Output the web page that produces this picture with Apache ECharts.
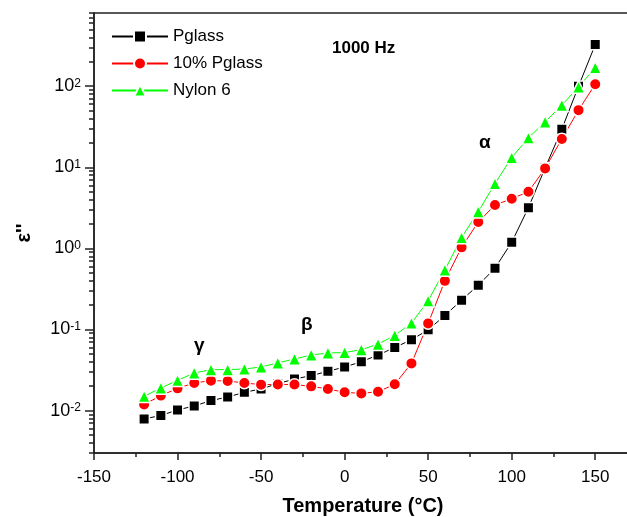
<!DOCTYPE html>
<html>
<head>
<meta charset="utf-8">
<script src="https://cdn.jsdelivr.net/npm/echarts@6/dist/echarts.min.js"></script>
<style>
html,body{margin:0;padding:0;background:#fff;}
#c{width:627px;height:517px;}
</style>
</head>
<body>
<div id="c"></div>
<script>
// Temperature (°C)
var temps = [-120,-110,-100,-90,-80,-70,-60,-50,-40,-30,-20,-10,0,10,20,30,40,50,60,70,80,90,100,110,120,130,140,150];
// epsilon'' values at 1000 Hz
var pglass = [0.0079,0.0087,0.0102,0.0114,0.0133,0.0147,0.0168,0.0185,0.0215,0.0245,0.027,0.0305,0.0345,0.040,0.0485,0.060,0.0748,0.099,0.149,0.230,0.352,0.57,1.19,3.18,9.8,29.5,100,326];
var pglass10 = [0.0119,0.0153,0.0188,0.0219,0.0234,0.0232,0.0219,0.0209,0.021,0.021,0.0199,0.0185,0.0168,0.0163,0.0171,0.0211,0.0382,0.119,0.398,1.03,2.12,3.43,4.1,5.0,9.7,22.4,50.7,106];
var nylon6 = [0.015,0.019,0.0236,0.0291,0.032,0.032,0.0326,0.0345,0.0387,0.0433,0.0485,0.0513,0.052,0.0564,0.066,0.0845,0.12,0.226,0.543,1.36,2.84,6.3,13.2,23.1,36.3,58.4,98,170];
var seriesNames = ['Pglass','10% Pglass','Nylon 6'];
// axis ticks
var xMajorTicks = [-150,-100,-50,0,50,100,150];
var xMinorTicks = [-125,-75,-25,25,75,125];
var yMajorTicks = [0.01,0.1,1,10,100];
var yMinorTicks = [0.003,0.004,0.005,0.006,0.007,0.008,0.009,
  0.02,0.03,0.04,0.05,0.06,0.07,0.08,0.09,
  0.2,0.3,0.4,0.5,0.6,0.7,0.8,0.9,
  2,3,4,5,6,7,8,9,
  20,30,40,50,60,70,80,90,
  200,300,400,500,600,700,800];

function pairs(vals){ return temps.map(function(t,i){ return [t, vals[i]]; }); }

var FONT = 'Liberation Sans, Arial, sans-serif';
var AX = '#222';

var chart = echarts.init(document.getElementById('c'), null, {renderer:'canvas'});

function mkSeries(name, vals, color, symbol, size){
  return {
    name: name, type: 'line', data: pairs(vals),
    xAxisIndex: 0, yAxisIndex: 0,
    symbol: symbol, symbolSize: size,
    lineStyle: {color: color, width: 1},
    itemStyle: {color: color, borderColor: '#fff', borderWidth: 1.5},
    emphasis: {disabled: true},
    animation: false
  };
}

var option = {
  animation: false,
  backgroundColor: '#fff',
  textStyle: {fontFamily: FONT},
  grid: {left: 94, top: 13, right: -5, bottom: 64, show: true, borderColor: AX, borderWidth: 1.5, backgroundColor: 'transparent',
         containLabel: false, outerBoundsMode: 'none'},
  legend: {
    orient: 'vertical', left: 106, top: 23,
    itemWidth: 56, itemHeight: 15, itemGap: 10,
    textStyle: {fontSize: 17, color: '#000', fontFamily: FONT, padding: [0,0,0,0]},
    data: seriesNames
  },
  xAxis: [{
    type: 'value', min: -150, max: 172, position: 'bottom',
    axisLine: {show: true, onZero: false, lineStyle: {color: AX, width: 1.5}},
    axisTick: {show: true, customValues: xMajorTicks, length: 7, lineStyle: {color: AX, width: 1.5}},
    axisLabel: {customValues: xMajorTicks, fontSize: 17, color: '#000', margin: 16, fontFamily: FONT},
    splitLine: {show: false},
    name: 'Temperature (°C)', nameLocation: 'middle', nameGap: 43,
    nameTextStyle: {fontSize: 20, fontWeight: 'bold', color: '#000', fontFamily: FONT}
  },{
    type: 'value', min: -150, max: 172, position: 'bottom',
    axisLine: {show: false, onZero: false},
    axisTick: {show: true, customValues: xMinorTicks, length: 4, lineStyle: {color: AX, width: 1.5}},
    axisLabel: {show: false},
    splitLine: {show: false}
  }],
  yAxis: [{
    type: 'log', logBase: 10, min: 0.003, max: 800, position: 'left',
    axisLine: {show: true, onZero: false, lineStyle: {color: AX, width: 1.5}},
    axisTick: {show: true, customValues: yMajorTicks, length: 9, lineStyle: {color: AX, width: 1.5}},
    axisLabel: {
      customValues: yMajorTicks, margin: 13, color: '#000', fontFamily: FONT,
      formatter: function(v){ var e = Math.round(Math.log10(v)); return '{b|10}{s|' + e + '}'; },
      rich: {
        b: {fontSize: 18, fontFamily: FONT, color: '#000'},
        s: {fontSize: 12, fontFamily: FONT, color: '#000', verticalAlign: 'top'}
      }
    },
    splitLine: {show: false},
    name: 'ε\'\'', nameLocation: 'middle', nameGap: 60,
    nameTextStyle: {fontSize: 20, fontWeight: 'bold', color: '#000', fontFamily: FONT}
  },{
    type: 'log', logBase: 10, min: 0.003, max: 800, position: 'left',
    axisLine: {show: false, onZero: false},
    axisTick: {show: true, customValues: yMinorTicks, length: 5, lineStyle: {color: AX, width: 1.5}},
    axisLabel: {show: false},
    splitLine: {show: false}
  }],
  series: [
    mkSeries(seriesNames[0], pglass, '#000000', 'rect', 10.5),
    mkSeries(seriesNames[1], pglass10, '#ff0000', 'circle', 11.5),
    mkSeries(seriesNames[2], nylon6, '#00ff00', 'triangle', 12.5)
  ],
  graphic: [
    {type: 'text', left: 332, top: 40, style: {text: '1000 Hz', font: 'bold 17px ' + FONT, fill: '#000'}},
    {type: 'text', left: 479, top: 133, style: {text: 'α', font: 'bold 19px ' + FONT, fill: '#000'}},
    {type: 'text', left: 301, top: 315, style: {text: 'β', font: 'bold 19px ' + FONT, fill: '#000'}},
    {type: 'text', left: 194, top: 336, style: {text: 'γ', font: 'bold 19px ' + FONT, fill: '#000'}}
  ]
};
chart.setOption(option);
</script>
</body>
</html>
